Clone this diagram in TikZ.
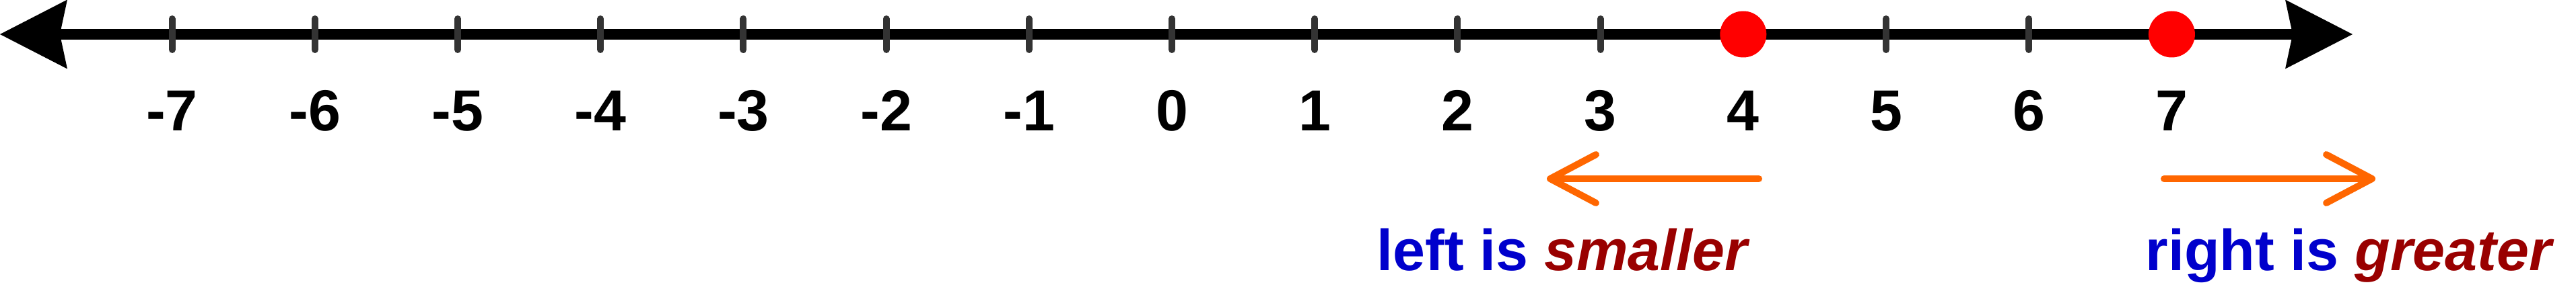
\documentclass[tikz,border=0pt]{standalone}
\usepackage{fontspec}
\setmainfont{Liberation Sans}
\usepackage{xcolor}
\usepackage{tikz}
\usetikzlibrary{arrows.meta}
\definecolor{tickgray}{RGB}{51,51,51}
\definecolor{dotred}{RGB}{255,0,0}
\definecolor{hintorange}{RGB}{255,102,0}
\definecolor{wordblue}{RGB}{0,0,204}
\definecolor{wordred}{RGB}{153,0,0}
\tikzset{
  numline/.style={
    {Stealth[length=10mm,width=10.3mm,inset=1.1mm,line width=0pt]}-{Stealth[length=10mm,width=10.3mm,inset=1.1mm,line width=0pt]},
    line width=1.6mm,
    draw=black
  },
  tickmark/.style={
    draw=tickgray,
    line width=1mm,
    line cap=round
  },
  ticklabel/.style={
    anchor=base,
    inner sep=0pt,
    font=\fontsize{24.5}{29}\selectfont\bfseries
  },
  pointdot/.style={
    circle,
    fill=dotred,
    minimum size=6.9mm,
    inner sep=0pt
  },
  hintarrow/.style={
    -{Straight Barb[length=6.8mm,width=7.2mm,round]},
    line width=1mm,
    line cap=round,
    draw=hintorange
  },
  hintlabel/.style={
    anchor=base west,
    inner sep=0pt,
    font=\fontsize{24.5}{29}\selectfont\bfseries
  }
}

\begin{document}
\begin{tikzpicture}
\useasboundingbox (0,0) rectangle (38.27,4.36);
\coordinate (axisleft) at (0,3.85);
\coordinate (axisright) at (34.95,3.85);
\draw[numline] (axisleft) -- (axisright);

\foreach \n in {-7,...,7} {
  \coordinate (t\n) at ({17.41+2.122*\n},3.85);
  \draw[tickmark] ([yshift=2.3mm]t\n) -- ([yshift=-2.3mm]t\n);
  \node[ticklabel] (lbl\n) at ({17.41+2.122*\n},2.41) {\n};
}

\node[pointdot] (dotfour) at (t4) {};
\node[pointdot] (dotseven) at (t7) {};

\coordinate (smallstart) at (26.13,1.70);
\coordinate (smallend) at (22.98,1.70);
\draw[hintarrow] (smallstart) -- (smallend);
\coordinate (greatstart) at (32.15,1.70);
\coordinate (greatend) at (35.29,1.70);
\draw[hintarrow] (greatstart) -- (greatend);

\node[hintlabel] (leftword) at (20.45,0.33) {\textcolor{wordblue}{left is} \textcolor{wordred}{\itshape smaller}};
\node[hintlabel] (rightword) at (31.87,0.33) {\textcolor{wordblue}{right is} \textcolor{wordred}{\itshape greater}};
\end{tikzpicture}
\end{document}
